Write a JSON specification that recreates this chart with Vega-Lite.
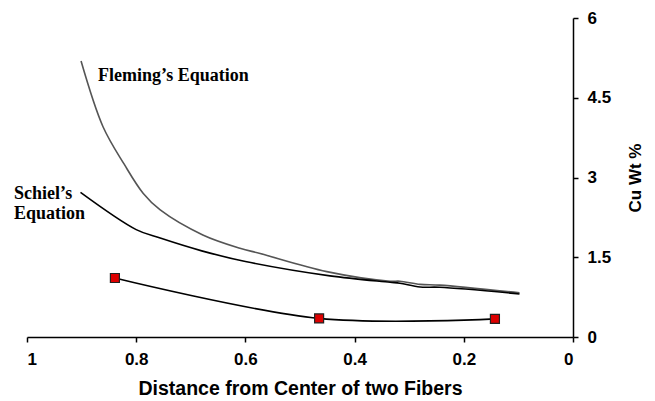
{
  "$schema": "https://vega.github.io/schema/vega-lite/v6.json",
  "width": 546,
  "height": 319,
  "autosize": {"type": "none"},
  "padding": {"left": 27, "top": 18, "right": 82, "bottom": 64},
  "background": "white",
  "config": {
    "view": {"stroke": null},
    "axis": {
      "grid": false,
      "domainColor": "#000000",
      "domainWidth": 1.5,
      "tickColor": "#000000",
      "tickWidth": 1.5,
      "tickSize": 5,
      "labelFont": "Liberation Sans",
      "labelFontWeight": "bold",
      "labelFontSize": 17,
      "labelColor": "#000000",
      "titleFont": "Liberation Sans",
      "titleFontWeight": "bold",
      "titleColor": "#000000"
    }
  },
  "datasets": {
    "curves": [
      {"series": "Fleming", "d": 0.901, "v": 5.19},
      {"series": "Fleming", "d": 0.861, "v": 3.96},
      {"series": "Fleming", "d": 0.822, "v": 3.25},
      {"series": "Fleming", "d": 0.787, "v": 2.7},
      {"series": "Fleming", "d": 0.756, "v": 2.39},
      {"series": "Fleming", "d": 0.678, "v": 1.92},
      {"series": "Fleming", "d": 0.61, "v": 1.67},
      {"series": "Fleming", "d": 0.573, "v": 1.57},
      {"series": "Fleming", "d": 0.451, "v": 1.23},
      {"series": "Fleming", "d": 0.335, "v": 1.05},
      {"series": "Fleming", "d": 0.317, "v": 1.05},
      {"series": "Fleming", "d": 0.28, "v": 0.99},
      {"series": "Fleming", "d": 0.244, "v": 0.975},
      {"series": "Fleming", "d": 0.098, "v": 0.83},
      {"series": "Schiel", "d": 0.902, "v": 2.72},
      {"series": "Schiel", "d": 0.8, "v": 2.02},
      {"series": "Schiel", "d": 0.756, "v": 1.86},
      {"series": "Schiel", "d": 0.68, "v": 1.62},
      {"series": "Schiel", "d": 0.6, "v": 1.42},
      {"series": "Schiel", "d": 0.445, "v": 1.15},
      {"series": "Schiel", "d": 0.335, "v": 1.03},
      {"series": "Schiel", "d": 0.317, "v": 1.01},
      {"series": "Schiel", "d": 0.28, "v": 0.94},
      {"series": "Schiel", "d": 0.244, "v": 0.935},
      {"series": "Schiel", "d": 0.098, "v": 0.81}
    ],
    "measured": [
      {"d": 0.839, "v": 1.11},
      {"d": 0.465, "v": 0.35},
      {"d": 0.143, "v": 0.34}
    ],
    "labels": [
      {"label": "Fleming’s Equation", "d": 0.87, "v": 4.81},
      {"label": "Schiel’s", "d": 1.024, "v": 2.6},
      {"label": "Equation", "d": 1.024, "v": 2.22}
    ]
  },
  "encoding": {
    "x": {
      "field": "d",
      "type": "quantitative",
      "scale": {"domain": [0, 1], "reverse": true, "nice": false},
      "axis": {
        "values": [1, 0.8, 0.6, 0.4, 0.2, 0],
        "format": ".1~f",
        "labelPadding": 9,
        "title": "Distance from Center of two Fibers",
        "titleFontSize": 19.5,
        "titlePadding": 12
      }
    },
    "y": {
      "field": "v",
      "type": "quantitative",
      "scale": {"domain": [0, 6], "nice": false},
      "axis": {
        "orient": "right",
        "values": [0, 1.5, 3, 4.5, 6],
        "format": ".1~f",
        "labelPadding": 9,
        "title": "Cu Wt %",
        "titleFontSize": 17,
        "titleAngle": 270,
        "titlePadding": 34
      }
    }
  },
  "layer": [
    {
      "data": {"name": "curves"},
      "transform": [{"filter": "datum.series === 'Fleming'"}],
      "mark": {"type": "line", "color": "#555555", "strokeWidth": 1.6, "interpolate": "catmull-rom"}
    },
    {
      "data": {"name": "curves"},
      "transform": [{"filter": "datum.series === 'Schiel'"}],
      "mark": {"type": "line", "color": "#000000", "strokeWidth": 1.6, "interpolate": "catmull-rom"}
    },
    {
      "data": {"name": "measured"},
      "mark": {"type": "line", "color": "#000000", "strokeWidth": 1.6, "interpolate": "catmull-rom"}
    },
    {
      "data": {"name": "measured"},
      "mark": {"type": "point", "shape": "square", "size": 81, "filled": true, "fill": "#dd0000", "stroke": "#222222", "strokeWidth": 1.2, "opacity": 1}
    },
    {
      "data": {"name": "labels"},
      "mark": {"type": "text", "align": "left", "baseline": "alphabetic", "font": "Liberation Serif", "fontWeight": "bold", "fontSize": 18, "color": "#000000"},
      "encoding": {"text": {"field": "label"}}
    }
  ]
}
